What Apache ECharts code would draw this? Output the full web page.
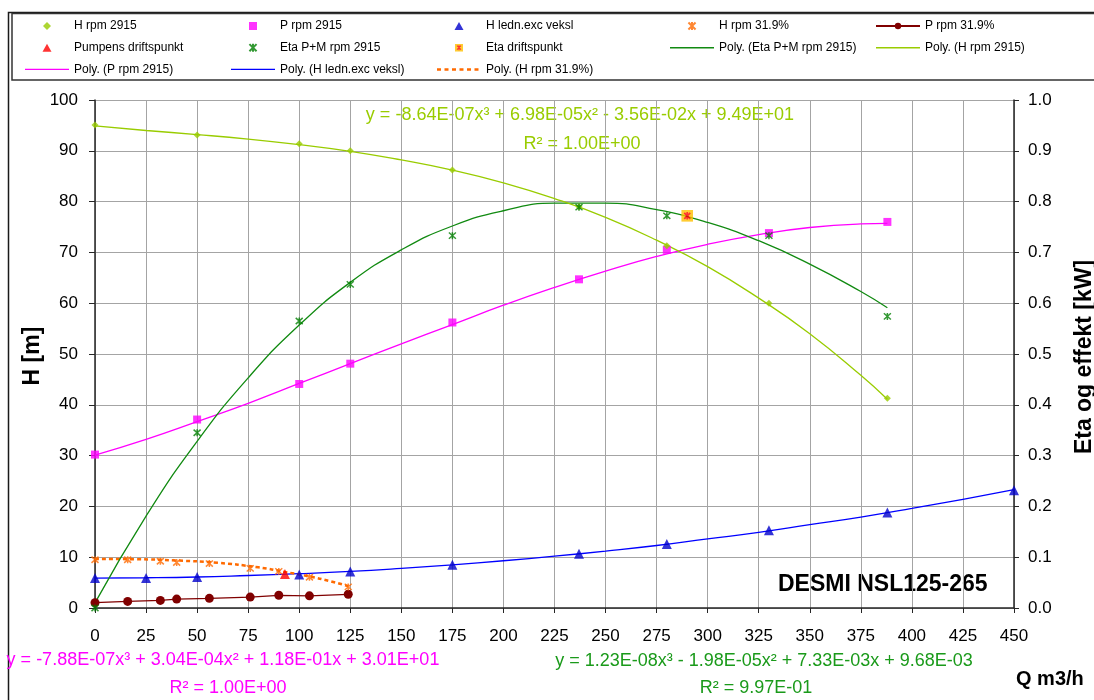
<!DOCTYPE html>
<html>
<head>
<meta charset="utf-8">
<script src="https://cdn.jsdelivr.net/npm/echarts@6/dist/echarts.min.js"></script>
<style>
  html, body { margin: 0; padding: 0; background: #fff; }
  #chart { width: 1094px; height: 700px; }
</style>
</head>
<body>
<div id="chart"></div>
<script>
// ---- Measured points, pump at 2915 rpm (Q in m3/h) ----
const qFull   = [0, 50, 100, 125, 175, 237, 280, 330, 388];
const hFull   = [95.1, 93.1, 91.4, 90.0, 86.2, 79.0, 71.3, 60.0, 41.3];
const pFull   = [30.2, 37.1, 44.1, 48.1, 56.2, 64.7, 70.5, 73.8, 76.0];
const etaFull = [0, 0.345, 0.565, 0.637, 0.733, 0.789, 0.772, 0.733, 0.574];

// ---- System (pipe + exchanger) curve ----
const qPipe = [0, 25, 50, 100, 125, 175, 237, 280, 330, 388, 450];
const hPipe = [5.9, 5.9, 6.1, 6.6, 7.2, 8.5, 10.7, 12.6, 15.3, 18.8, 23.2];

// ---- Reduced speed, 31.9 % ----
const qLow = [0, 16, 32, 40, 56, 76, 90, 105, 124];
const hLow = [9.5, 9.5, 9.2, 8.95, 8.75, 7.8, 7.2, 6.05, 4.15];
const pLow = [1.05, 1.3, 1.5, 1.75, 1.9, 2.15, 2.5, 2.4, 2.7];

// ---- Operating points ----
const dutyQ = [93];
const dutyH = [6.7];
const etaDutyQ = [290];
const etaDutyV = [0.772];

// ---- Polynomial trend curves ----
const qTrend   = [0, 25, 50, 75, 100, 125, 150, 175, 200, 225, 250, 275, 300, 325, 350, 375, 388];
const hTrend   = [94.9, 94.0, 93.2, 92.3, 91.2, 89.9, 88.2, 86.2, 83.7, 80.6, 76.9, 72.4, 67.2, 61.0, 54.0, 45.8, 41.1];
const pTrend   = [30.1, 33.2, 36.7, 40.3, 44.2, 48.1, 52.0, 55.8, 59.6, 63.1, 66.3, 69.2, 71.6, 73.5, 74.9, 75.6, 75.7];
const etaTrend = [0.01, 0.181, 0.328, 0.453, 0.557, 0.641, 0.705, 0.752, 0.782, 0.797, 0.797, 0.784, 0.759, 0.723, 0.677, 0.623, 0.591];
const qPipeTrend = [0, 25, 50, 75, 100, 125, 150, 175, 200, 225, 250, 275, 300, 325, 350, 375, 400, 425, 450];
const hPipeTrend = [5.9, 5.95, 6.1, 6.4, 6.75, 7.2, 7.8, 8.5, 9.3, 10.2, 11.2, 12.3, 13.6, 14.9, 16.4, 17.9, 19.6, 21.4, 23.3];
const qLowTrend = [0, 20, 40, 60, 80, 93, 105, 115, 124];
const hLowTrend = [9.65, 9.6, 9.35, 8.9, 8.0, 7.1, 6.2, 5.3, 4.3];

// ---- Axis scales ----
const qAxis   = { min: 0, max: 450, step: 25 };
const hAxis   = { min: 0, max: 100, step: 10 };
const etaAxis = { min: 0, max: 1, step: 0.1 };

// ---- Text ----
const eqH   = 'y = -8.64E-07x³ + 6.98E-05x² - 3.56E-02x + 9.49E+01';
const r2H   = 'R² = 1.00E+00';
const eqP   = 'y = -7.88E-07x³ + 3.04E-04x² + 1.18E-01x + 3.01E+01';
const r2P   = 'R² = 1.00E+00';
const eqEta = 'y = 1.23E-08x³ - 1.98E-05x² + 7.33E-03x + 9.68E-03';
const r2Eta = 'R² = 9.97E-01';
const pumpName = 'DESMI NSL125-265';

const FONT = '"Liberation Sans", Arial, sans-serif';
const zip = (xs, ys) => xs.map((x, i) => [x, ys[i]]);

const C = {
  hGreen: '#99cc00',
  magenta: '#ff00ff',
  blue: '#0000ff',
  blueMark: '#0000cc',
  orange: '#ff6a00',
  darkRed: '#800000',
  red: '#ff0000',
  eta: '#118a11',
  etaText: '#1a9a1a'
};

// asterisk-style marker (X with a vertical bar)
const STAR = 'path://M0,0L8,8M8,0L0,8M4,-0.5L4,8.5';
const dutySvg = "<svg xmlns='http://www.w3.org/2000/svg' width='12' height='12'>" +
  "<rect width='12' height='12' fill='#ffc000'/>" +
  "<path d='M3,3L9,9M9,3L3,9M6,2.2L6,9.8' stroke='#ff0000' stroke-width='1.7' fill='none'/></svg>";
const DUTY_ICON = 'image://data:image/svg+xml;charset=utf-8,' + encodeURIComponent(dutySvg);

// Legend glyphs (paths keep their aspect inside the legend box)
const ICON = {
  diamond: 'path://M4,0L8,4L4,8L0,4Z',
  square: 'path://M0,0H8V8H0Z',
  triangle: 'path://M4.5,0L9,8L0,8Z',
  line: 'path://M0,0H44V1.4H0Z',
  dashed: 'path://M0,0h4v2.5h-4z M7.5,0h4v2.5h-4z M15,0h4v2.5h-4z M22.5,0h4v2.5h-4z M30,0h4v2.5h-4z M37.5,0h4v2.5h-4z M44,0h0.01v2.5h-0.01z'
};

const chart = echarts.init(document.getElementById('chart'), null, { renderer: 'canvas' });

function trend(name, xs, ys, color, yAxisIndex, lineType, width) {
  return {
    name, type: 'line', yAxisIndex, data: zip(xs, ys), smooth: true,
    showSymbol: false, symbol: 'none', silent: true, z: 2,
    lineStyle: { color, width: width || 1.3, type: lineType || 'solid' },
    itemStyle: { color }
  };
}

const legendBase = {
  orient: 'vertical', top: 20, padding: 0, itemWidth: 44, itemHeight: 8,
  itemGap: 9.7, selectedMode: false,
  textStyle: { fontFamily: FONT, fontSize: 12, color: '#000' }
};
const L = (name, icon) => (icon ? { name, icon } : { name });
const legendCols = [
  { left: 25,  data: [L('H rpm 2915', ICON.diamond), L('Pumpens driftspunkt', ICON.triangle), L('Poly. (P rpm 2915)', ICON.line)] },
  { left: 231, data: [L('P rpm 2915', ICON.square), L('Eta P+M rpm 2915'), L('Poly. (H ledn.exc veksl)', ICON.line)] },
  { left: 437, data: [L('H ledn.exc veksl', ICON.triangle), L('Eta driftspunkt'), L('Poly. (H rpm 31.9%)', ICON.dashed)] },
  { left: 670, data: [L('H rpm 31.9%'), L('Poly. (Eta P+M rpm 2915)', ICON.line)] },
  { left: 875, data: [L('P rpm 31.9%'), L('Poly. (H rpm 2915)', ICON.line)] }
].map(c => Object.assign({}, legendBase, c));

const axisText = { fontFamily: FONT, fontSize: 17, color: '#000' };
const axisLine = { show: true, lineStyle: { color: '#262626', width: 1.5 } };
const gridLine = { show: true, lineStyle: { color: '#a4a4a4', width: 1 } };

function txt(x, y, text, color, size, opts) {
  return Object.assign({
    type: 'text', x, y, silent: true,
    style: Object.assign({
      text, fill: color, font: (opts && opts.bold ? 'bold ' : '') + size + 'px ' + FONT,
      textAlign: 'center', textVerticalAlign: 'middle'
    }, opts && opts.style)
  }, opts && opts.el);
}

const option = {
  backgroundColor: '#fff',
  animation: false,
  legend: legendCols,
  grid: { left: 95, right: 80, top: 100, bottom: 92, containLabel: false },
  xAxis: {
    type: 'value', min: qAxis.min, max: qAxis.max, interval: qAxis.step,
    axisLine, axisTick: { show: true, length: 5, lineStyle: { color: '#262626' } },
    axisLabel: Object.assign({ margin: 20 }, axisText),
    splitLine: gridLine
  },
  yAxis: [
    {
      type: 'value', position: 'left', min: hAxis.min, max: hAxis.max, interval: hAxis.step,
      axisLine, axisTick: { show: true, length: 6, lineStyle: { color: '#262626' } },
      axisLabel: Object.assign({ margin: 17 }, axisText),
      splitLine: gridLine
    },
    {
      type: 'value', position: 'right', min: etaAxis.min, max: etaAxis.max, interval: etaAxis.step,
      axisLine, axisTick: { show: true, length: 5, lineStyle: { color: '#262626' } },
      axisLabel: Object.assign({ margin: 14, formatter: v => v.toFixed(1) }, axisText),
      splitLine: { show: false }
    }
  ],
  graphic: [
    { type: 'rect', silent: true, z: -1, shape: { x: 8.5, y: 12.5, width: 1200, height: 800 },
      style: { fill: 'none', stroke: '#1a1a1a', lineWidth: 1.5 } },
    { type: 'rect', silent: true, z: -1, shape: { x: 12, y: 13.5, width: 1200, height: 66.5 },
      style: { fill: 'none', stroke: '#333', lineWidth: 1.5 } },
    txt(580, 115, eqH, C.hGreen, 18),
    txt(582, 144, r2H, C.hGreen, 18),
    txt(223, 660, eqP, C.magenta, 18),
    txt(228, 688, r2P, C.magenta, 18),
    txt(764, 661, eqEta, C.etaText, 18),
    txt(756, 688, r2Eta, C.etaText, 18),
    txt(778, 585, pumpName, '#000', 23, { bold: true, style: { textAlign: 'left' } }),
    txt(1016, 679, 'Q m3/h', '#000', 20, { bold: true, style: { textAlign: 'left' } }),
    txt(33, 356, 'H [m]', '#000', 23, { bold: true, el: { rotation: Math.PI / 2 } }),
    txt(1085, 357, 'Eta og effekt [kW]', '#000', 23, { bold: true, el: { rotation: Math.PI / 2 } })
  ],
  series: [
    trend('Poly. (P rpm 2915)', qTrend, pTrend, C.magenta, 0),
    trend('Poly. (H ledn.exc veksl)', qPipeTrend, hPipeTrend, C.blue, 0),
    trend('Poly. (H rpm 31.9%)', qLowTrend, hLowTrend, C.orange, 0, [4, 3], 2.5),
    trend('Poly. (Eta P+M rpm 2915)', qTrend, etaTrend, C.eta, 1),
    trend('Poly. (H rpm 2915)', qTrend, hTrend, C.hGreen, 0),
    {
      name: 'P rpm 31.9%', type: 'line', yAxisIndex: 0, data: zip(qLow, pLow),
      symbol: 'circle', symbolSize: 9, showSymbol: true, z: 3,
      lineStyle: { color: C.darkRed, width: 1.3 }, itemStyle: { color: C.darkRed }
    },
    {
      name: 'H ledn.exc veksl', type: 'scatter', yAxisIndex: 0, data: zip(qPipe, hPipe),
      symbol: 'triangle', symbolSize: 10, z: 4, itemStyle: { color: C.blueMark }
    },
    {
      name: 'H rpm 31.9%', type: 'scatter', yAxisIndex: 0, data: zip(qLow, hLow),
      symbol: STAR, symbolSize: 7, z: 4,
      itemStyle: { color: C.orange, borderColor: C.orange, borderWidth: 1.5 }
    },
    {
      name: 'Pumpens driftspunkt', type: 'scatter', yAxisIndex: 0, data: zip(dutyQ, dutyH),
      symbol: 'triangle', symbolSize: 10, z: 4, itemStyle: { color: C.red }
    },
    {
      name: 'P rpm 2915', type: 'scatter', yAxisIndex: 0, data: zip(qFull, pFull),
      symbol: 'rect', symbolSize: 8, z: 4, itemStyle: { color: C.magenta }
    },
    {
      name: 'H rpm 2915', type: 'scatter', yAxisIndex: 0, data: zip(qFull, hFull),
      symbol: 'diamond', symbolSize: 7, z: 4, itemStyle: { color: C.hGreen }
    },
    {
      name: 'Eta P+M rpm 2915', type: 'scatter', yAxisIndex: 1, data: zip(qFull, etaFull),
      symbol: STAR, symbolSize: 7, z: 5,
      itemStyle: { color: '#008000', borderColor: '#008000', borderWidth: 1.5 }
    },
    {
      name: 'Eta driftspunkt', type: 'scatter', yAxisIndex: 1, data: zip(etaDutyQ, etaDutyV),
      symbol: DUTY_ICON, symbolSize: 12, z: 6
    }
  ]
};

chart.setOption(option);
</script>
</body>
</html>
